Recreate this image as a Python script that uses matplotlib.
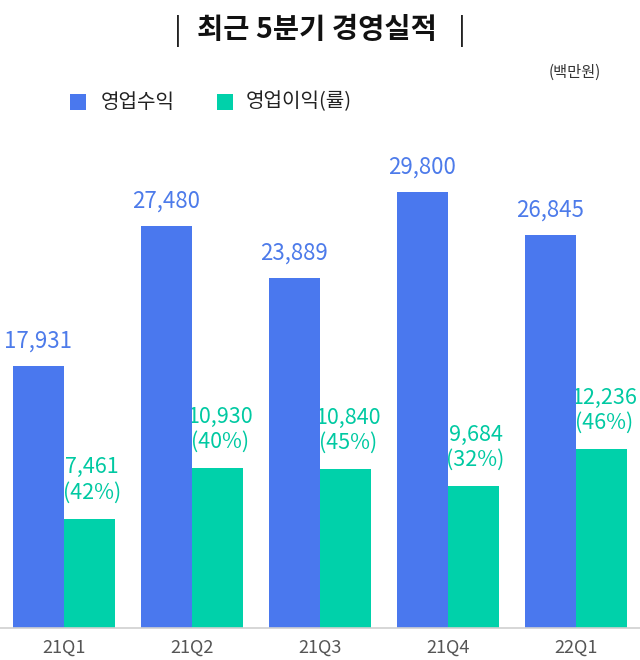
import matplotlib
matplotlib.use("Agg")
import matplotlib.pyplot as plt
from matplotlib.patches import Rectangle
import numpy as np

plt.rcParams['font.family'] = ['Noto Sans CJK KR', 'DejaVu Sans']

quarters = ["21Q1", "21Q2", "21Q3", "21Q4", "22Q1"]
revenue = [17931, 27480, 23889, 29800, 26845]
op_income = [7461, 10930, 10840, 9684, 12236]
op_margin = [42, 40, 45, 32, 46]

title = "최근 5분기 경영실적"
unit_label = "(백만원)"
legend_labels = ["영업수익", "영업이익(률)"]

BLUE = "#4A78EE"
GREEN = "#00D1AA"
BLUE_TXT = "#4D7BEA"
GREEN_TXT = "#00C9A2"

W, H = 640, 660
fig = plt.figure(figsize=(6.4, 6.6), dpi=100)
ax = fig.add_axes([0.0, 32/H, 1.0, (628-101)/H])

x = np.arange(len(quarters))
w = 0.4
ax.bar(x - w/2, revenue, width=w, color=BLUE, zorder=3)
ax.bar(x + w/2, op_income, width=w, color=GREEN, zorder=2)

for xi, v in zip(x, revenue):
    ax.annotate(f"{v:,}", (xi - w/2, v), xytext=(0, 9.5), textcoords="offset points",
                ha="center", va="bottom", fontsize=16, color=BLUE_TXT, zorder=4)
for xi, v, m in zip(x, op_income, op_margin):
    ax.annotate(f"{v:,}\n({m}%)", (xi + w/2, v), xytext=(1.5, 11), textcoords="offset points",
                ha="center", va="bottom", fontsize=15.5, color=GREEN_TXT, zorder=1,
                linespacing=1.18, multialignment="center")

ax.set_xlim(-0.5, 4.5)
ax.set_ylim(0, 36000)
ax.set_xticks(x)
ax.set_xticklabels(quarters, fontsize=13, color="#555555")
ax.tick_params(axis="x", length=0, pad=8)
ax.set_yticks([])
for s in ["top", "right", "left"]:
    ax.spines[s].set_visible(False)
ax.spines["bottom"].set_color("#D0D0D0")
ax.spines["bottom"].set_linewidth(1.2)
ax.spines["bottom"].set_zorder(5)

# title with thin separators
fig.text(317/W, 1 - 30/H, title, ha="center", va="center", fontsize=20.5,
         fontweight="bold", color="#111111")
for px in (178, 462):
    fig.text(px/W, 1 - 31/H, "|", ha="center", va="center", fontsize=21,
             color="#222222")

fig.text(575/W, 1 - 72/H, unit_label, ha="center", va="center", fontsize=11,
         color="#333333")

# legend
leg_y = 102
for sq_x, txt_x, col, lab in [(70, 101, BLUE, legend_labels[0]),
                              (217, 246, GREEN, legend_labels[1])]:
    fig.patches.append(Rectangle((sq_x/W, 1 - (leg_y + 8)/H), 16/W, 16/H,
                                 transform=fig.transFigure, facecolor=col,
                                 edgecolor="none"))
    fig.text(txt_x/W, 1 - leg_y/H, lab, ha="left", va="center", fontsize=14.5,
             color="#222222")

fig.savefig("out.png", dpi=100)
